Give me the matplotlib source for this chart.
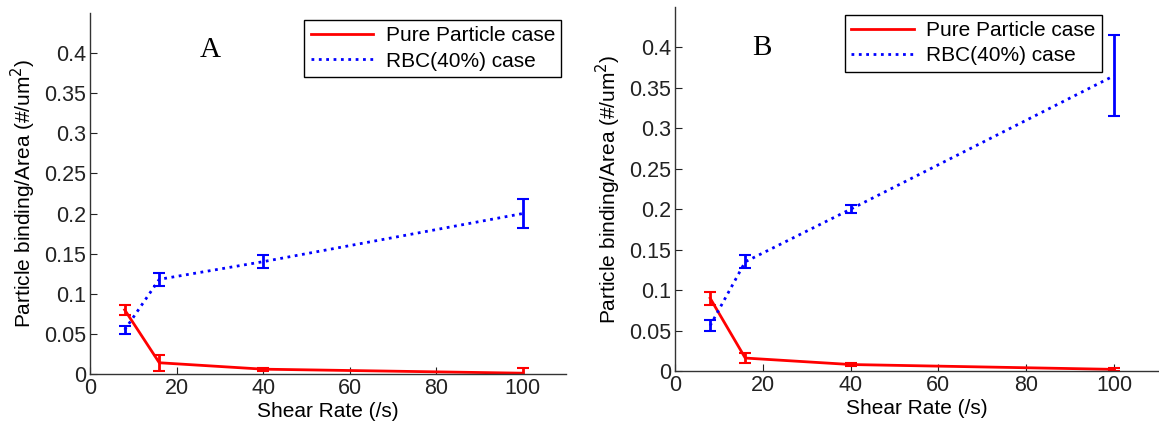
import matplotlib
matplotlib.use("Agg")
import matplotlib.pyplot as plt
from matplotlib.lines import Line2D

plt.rcParams['font.family'] = ['Liberation Sans', 'DejaVu Sans']

shear = [8, 16, 40, 100]

# panel A
pure_a = [0.080, 0.014, 0.006, 0.001]
pure_a_err = [0.006, 0.010, 0.002, 0.006]
rbc_a = [0.055, 0.118, 0.140, 0.200]
rbc_a_err = [0.005, 0.008, 0.008, 0.018]

# panel B
pure_b = [0.090, 0.016, 0.008, 0.002]
pure_b_err = [0.008, 0.006, 0.002, 0.002]
rbc_b = [0.056, 0.135, 0.200, 0.365]
rbc_b_err = [0.007, 0.008, 0.005, 0.050]

panels = [
    ("A", pure_a, pure_a_err, rbc_a, rbc_a_err,
     [0.0777, 0.1262, 0.4107, 0.8435], (0.252, 0.897), (0.99, 0.98)),
    ("B", pure_b, pure_b_err, rbc_b, rbc_b_err,
     [0.5824, 0.1332, 0.4167, 0.8505], (0.18, 0.887), (0.884, 0.978)),
]

fig = plt.figure(figsize=(11.59, 4.28), dpi=100)

for label, pure, pure_err, rbc, rbc_err, pos, lab_xy, leg_xy in panels:
    ax = fig.add_axes(pos)
    ax.errorbar(shear, pure, yerr=pure_err, color='red', lw=2, capsize=4,
                elinewidth=2, capthick=1.5)
    ax.errorbar(shear, rbc, yerr=rbc_err, color='blue', lw=2, ls=':',
                capsize=4, elinewidth=2, capthick=1.5)
    ax.set_xlim(0, 110)
    ax.set_ylim(0, 0.45)
    ax.set_xticks([0, 20, 40, 60, 80, 100])
    ax.set_yticks([0, 0.05, 0.1, 0.15, 0.2, 0.25, 0.3, 0.35, 0.4])
    ax.set_yticklabels(['0', '0.05', '0.1', '0.15', '0.2', '0.25', '0.3', '0.35', '0.4'])
    ax.spines['top'].set_visible(False)
    ax.spines['right'].set_visible(False)
    for s in ['left', 'bottom']:
        ax.spines[s].set_color('#333333')
        ax.spines[s].set_linewidth(1)
    ax.tick_params(direction='in', length=5, labelsize=15.5, colors='#222222', pad=3)
    ax.set_xlabel('Shear Rate (/s)', fontsize=15, labelpad=2)
    ax.set_ylabel('Particle binding/Area (#/um$^2$)', fontsize=15, labelpad=4)
    ax.text(lab_xy[0], lab_xy[1], label, transform=ax.transAxes,
            fontsize=21, family='Liberation Serif', ha='center', va='center')
    handles = [Line2D([], [], color='red', lw=2),
               Line2D([], [], color='blue', lw=2, ls=':')]
    leg = ax.legend(handles, ['Pure Particle case', 'RBC(40%) case'],
                    loc='upper right', bbox_to_anchor=leg_xy, fontsize=15,
                    fancybox=False, framealpha=1, edgecolor='black',
                    borderpad=0.3, handlelength=3.0, labelspacing=0.3,
                    handletextpad=0.6, borderaxespad=0)
    leg.get_frame().set_linewidth(1)

fig.savefig('out.png', dpi=100)
